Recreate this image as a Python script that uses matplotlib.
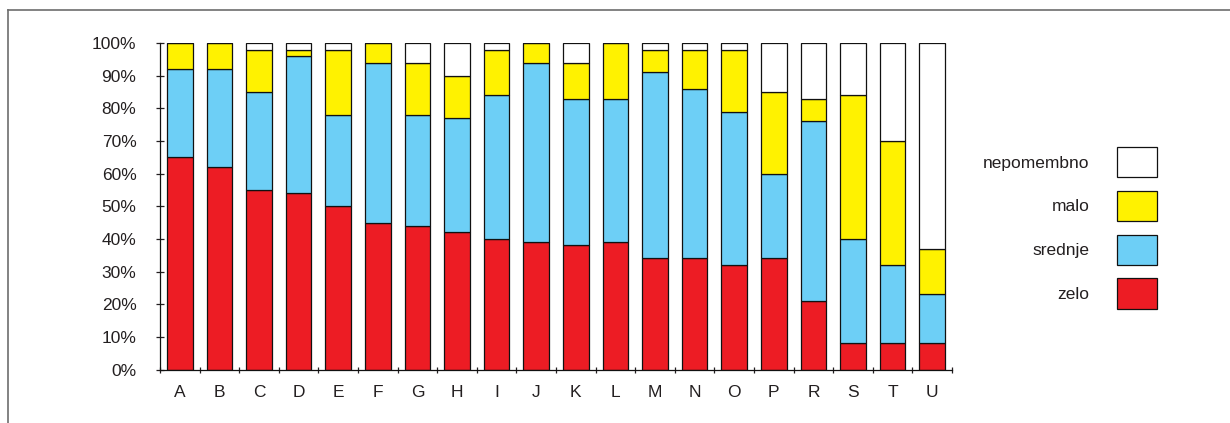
import numpy as np
import matplotlib
matplotlib.use("Agg")
import matplotlib.pyplot as plt
from matplotlib.lines import Line2D
from matplotlib.ticker import FixedLocator, FuncFormatter

plt.rcParams['font.family'] = ['Liberation Sans', 'DejaVu Sans']
plt.rcParams['text.color'] = '#231f20'
plt.rcParams['xtick.color'] = '#231f20'
plt.rcParams['ytick.color'] = '#231f20'

# data (percent per answer category)
categories = ['A', 'B', 'C', 'D', 'E', 'F', 'G', 'H', 'I', 'J',
              'K', 'L', 'M', 'N', 'O', 'P', 'R', 'S', 'T', 'U']
zelo = [65, 62, 55, 54, 50, 45, 44, 42, 40, 39, 38, 39, 34, 34, 32, 34, 21, 8, 8, 8]
srednje = [27, 30, 30, 42, 28, 49, 34, 35, 44, 55, 45, 44, 57, 52, 47, 26, 55, 32, 24, 15]
malo = [8, 8, 13, 2, 20, 6, 16, 13, 14, 6, 11, 17, 7, 12, 19, 25, 7, 44, 38, 14]
nepomembno = [0, 0, 2, 2, 2, 0, 6, 10, 2, 0, 6, 0, 2, 2, 2, 15, 17, 16, 30, 63]

series = [('zelo', zelo, '#ed1c24'),
          ('srednje', srednje, '#6dcff6'),
          ('malo', malo, '#fff200'),
          ('nepomembno', nepomembno, '#ffffff')]

W, H = 1230, 423
fig = plt.figure(figsize=(W / 100, H / 100), dpi=100)
ax = fig.add_axes([160 / W, 1 - 369.5 / H, 792 / W, 326.5 / H])

x = np.arange(len(categories))
bottom = np.zeros(len(categories))
handles = []
for name, vals, col in series:
    b = ax.bar(x, vals, width=0.65, bottom=bottom, color=col,
               edgecolor='#111111', linewidth=0.9, label=name)
    handles.append(b)
    bottom += np.array(vals)

ax.set_xlim(-0.5, len(categories) - 0.5)
ax.set_ylim(0, 100)

ax.set_xticks(x)
ax.set_xticklabels(categories, fontsize=12.5)
ax.xaxis.set_minor_locator(FixedLocator(np.arange(-0.5, len(categories), 1.0)))
ax.tick_params(axis='x', which='major', length=0, pad=11)
ax.tick_params(axis='x', which='minor', direction='inout', length=5, width=0.9)

ax.set_yticks(np.arange(0, 101, 10))
ax.yaxis.set_major_formatter(FuncFormatter(lambda v, p: f'{int(v)}%'))
ax.tick_params(axis='y', direction='inout', length=6, width=0.9, pad=14,
               labelsize=12.5)

for s in ['top', 'right']:
    ax.spines[s].set_visible(False)
for s in ['left', 'bottom']:
    ax.spines[s].set_linewidth(0.9)
    ax.spines[s].set_color('#111111')

leg = fig.legend(handles[::-1], [h.get_label() for h in handles[::-1]],
                 loc='upper right', bbox_to_anchor=(1156.5 / W, 1 - 147 / H),
                 markerfirst=False, frameon=False, fontsize=12.5,
                 handlelength=2.3, handleheight=2.32, labelspacing=0.77,
                 handletextpad=1.55, borderpad=0, borderaxespad=0)

# outer frame (only top and left edges are visible in the crop)
fig.add_artist(Line2D([8 / W, 8 / W], [0, 1 - 10 / H], transform=fig.transFigure,
                      color='#6d6d6d', linewidth=1.2))
fig.add_artist(Line2D([8 / W, 1], [1 - 10 / H, 1 - 10 / H], transform=fig.transFigure,
                      color='#6d6d6d', linewidth=1.2))

fig.savefig('out.png', dpi=100)
